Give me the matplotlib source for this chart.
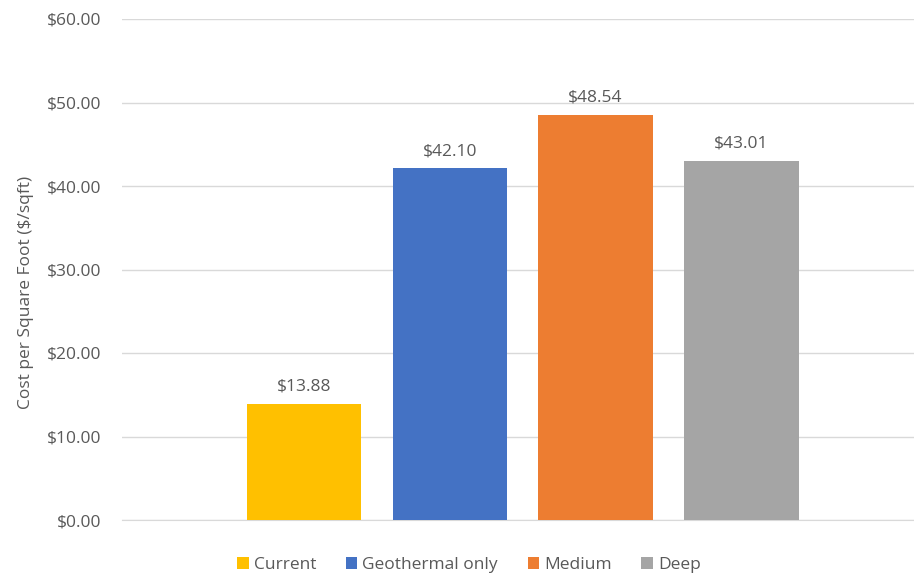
import matplotlib.pyplot as plt
from matplotlib.patches import Patch

series = ['Current', 'Geothermal only', 'Medium', 'Deep']
costs = [13.88, 42.10, 48.54, 43.01]
colors = ['#FFC000', '#4472C4', '#ED7D31', '#A5A5A5']
yticks = [0, 10, 20, 30, 40, 50, 60]

plt.rcParams['font.family'] = ['Open Sans', 'DejaVu Sans']
text_color = '#595959'
fs = 12.5

fig = plt.figure(figsize=(9.14, 5.77), dpi=100)
ax = fig.add_axes([122 / 914, 57 / 577, 1 - 122 / 914, (520 - 19) / 577])

x = list(range(len(series)))
bars = ax.bar(x, costs, width=0.785, color=colors, zorder=3)
for b, v in zip(bars, costs):
    ax.text(b.get_x() + b.get_width() / 2, v + 1.1, f'${v:.2f}',
            ha='center', va='bottom', fontsize=fs, color=text_color)

ax.set_xlim(-1.248, 4.184)
ax.set_ylim(0, 60)
ax.set_yticks(yticks)
ax.set_yticklabels([f'${t:.2f}' for t in yticks], fontsize=fs, color=text_color)
ax.set_xticks([])
ax.tick_params(axis='y', length=0, pad=15)
ax.grid(axis='y', color='#D9D9D9', linewidth=1, zorder=0)
for s in ['top', 'right', 'left']:
    ax.spines[s].set_visible(False)
ax.spines['bottom'].set_color('#D9D9D9')
ax.set_ylabel('Cost per Square Foot ($/sqft)', fontsize=fs, color=text_color)
ax.yaxis.set_label_coords(-88 / 792, (520 - 292) / 501)

handles = [Patch(facecolor=c, label=s) for c, s in zip(colors, series)]
leg = fig.legend(handles=handles, loc='center', bbox_to_anchor=(469 / 914, 12 / 577),
                 ncol=4, frameon=False, fontsize=fs, handlelength=0.65, handleheight=0.65,
                 handletextpad=0.3, columnspacing=1.7)
for t in leg.get_texts():
    t.set_color(text_color)

fig.savefig('out.png', dpi=100)
